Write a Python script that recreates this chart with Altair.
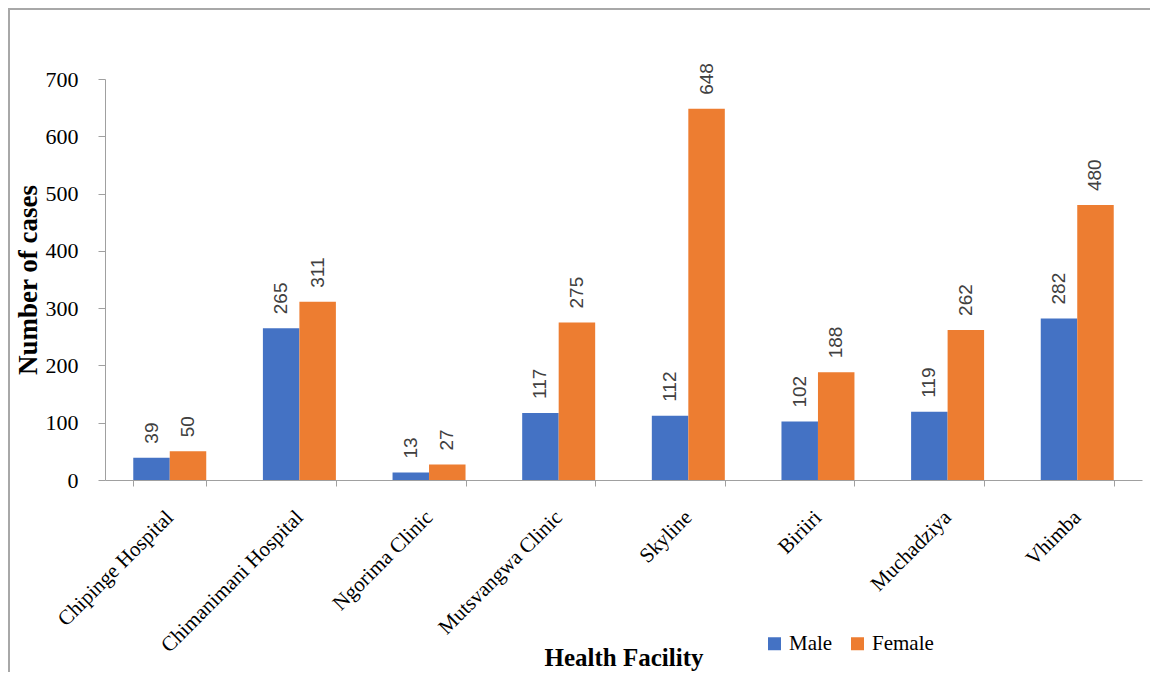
import altair as alt
import pandas as pd

facilities = ["Chipinge Hospital", "Chimanimani Hospital", "Ngorima Clinic",
              "Mutsvangwa Clinic", "Skyline", "Biriiri", "Muchadziya", "Vhimba"]
male = [39, 265, 13, 117, 112, 102, 119, 282]
female = [50, 311, 27, 275, 648, 188, 262, 480]
sexes = ["Male", "Female"]
colors = ["#4472C4", "#ED7D31"]

rows = []
for f, m, w in zip(facilities, male, female):
    rows.append({"facility": f, "sex": "Male", "cases": m})
    rows.append({"facility": f, "sex": "Female", "cases": w})
df = pd.DataFrame(rows)

W, H = 1037, 401
PAD = {"left": 97, "top": 71, "right": 8, "bottom": 192}
SERIF = "Liberation Serif"
AXIS_GRAY = "#a0a0a0"

x = alt.X("facility:N", sort=facilities,
          scale=alt.Scale(paddingInner=0.437, paddingOuter=0.218),
          axis=alt.Axis(title="Health Facility", labelAngle=-45, labelAlign="right",
                        labelBaseline="middle", labelPadding=28, labelLimit=400,
                        tickBand="extent",
                        tickSize=6, labelFont=SERIF, labelFontSize=21,
                        titleFont=SERIF, titleFontSize=25, titleFontWeight="bold",
                        titleColor="black", labelColor="black", titleY=190,
                        titleBaseline="bottom",
                        domainColor=AXIS_GRAY, tickColor=AXIS_GRAY))
y = alt.Y("cases:Q", scale=alt.Scale(domain=[0, 700]),
          axis=alt.Axis(title="Number of cases", values=list(range(0, 701, 100)),
                        grid=False, tickSize=7, labelPadding=20, labelFont=SERIF,
                        labelFontSize=22, titleFont=SERIF, titleFontSize=27,
                        titleFontWeight="bold", titleColor="black", labelColor="black",
                        titlePadding=3, domainColor=AXIS_GRAY, tickColor=AXIS_GRAY))
xo = alt.XOffset("sex:N", sort=sexes, scale=alt.Scale(paddingInner=0, paddingOuter=0))
color = alt.Color("sex:N", sort=sexes, scale=alt.Scale(domain=sexes, range=colors),
                  legend=alt.Legend(title=None, orient="none", direction="horizontal",
                                    legendX=659, legendY=554, symbolType="square",
                                    symbolSize=169, symbolStrokeWidth=0,
                                    labelFont=SERIF, labelFontSize=21, labelColor="black",
                                    columnPadding=14, labelOffset=4))

bars = alt.Chart(df).mark_bar().encode(x=x, xOffset=xo, y=y, color=color)
labels = alt.Chart(df).mark_text(angle=270, align="left", baseline="middle", dx=14,
                                 font="Liberation Sans", fontSize=19, color="#404040").encode(
    x=alt.X("facility:N", sort=facilities), xOffset=xo, y="cases:Q", text="cases:Q")

# outer chart frame: a stroked box whose right and bottom edges lie beyond the drawing surface
fx0 = 1 - PAD["left"]
fy0 = 1 - PAD["top"]
fx1 = W + PAD["right"] + 30
fy1 = H + PAD["bottom"] + 30
frame_df = pd.DataFrame({"k": [0]})
frame = alt.Chart(frame_df).mark_rect(fill="white", fillOpacity=0, stroke="#a8a8a8",
                                      strokeWidth=2).encode(
    x=alt.value(fx0), x2=alt.value(fx1), y=alt.value(fy0), y2=alt.value(fy1))

chart = alt.layer(frame, bars, labels).properties(
    width=W, height=H,
    autosize=alt.AutoSizeParams(type="none"),
    padding=PAD,
).configure_view(stroke=None)

chart.save("out.html", embed_options={"renderer": "svg", "actions": False})
